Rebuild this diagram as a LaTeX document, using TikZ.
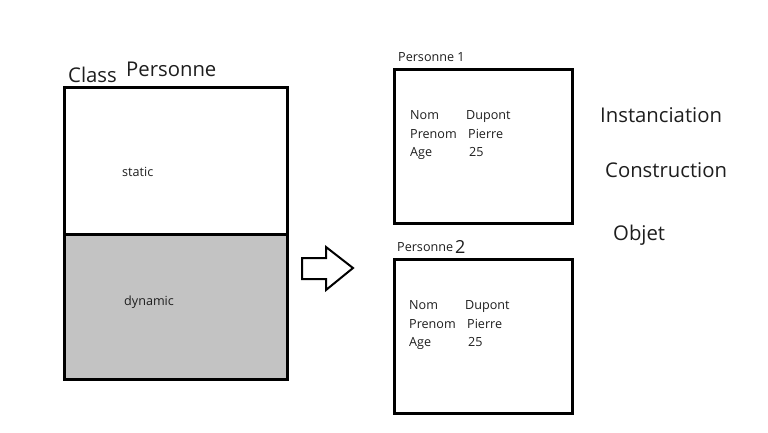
\documentclass[tikz,border=0pt]{standalone}
\usepackage{fontspec}
\setmainfont{Open Sans}
\definecolor{ink}{HTML}{1E1E1E}
\definecolor{dynfill}{HTML}{C3C3C3}
\begin{document}
\begin{tikzpicture}[x=1pt,y=-1pt,
  frame/.style={draw=black,line width=3pt},
  lbl/.style={inner sep=0pt,anchor=base west,text=ink},
  big/.style={lbl,font=\fontsize{20.3}{20.3}\selectfont},
  small/.style={lbl,font=\fontsize{12.6}{12.6}\selectfont},
  blockarrow/.style={draw=black,line width=2pt,fill=white,line join=miter}]
\useasboundingbox[fill=white] (0,0) rectangle (768,432);

% class box: static part above, dynamic part below
\coordinate (clsTL) at (64.5,87.5);
\coordinate (clsSplit) at (287,234.5);
\coordinate (clsBR) at (287,379);
\fill[dynfill] (64.5,234.5) rectangle (clsBR);
\draw[frame] (clsTL) rectangle (clsBR);
\draw[frame] (63,234.5) -- (clsSplit);
\node[big] (classkw) at (68,82) {Class};
\node[big] (classname) at (126,76) {Personne};
\node[small] (static) at (122,176) {static};
\node[small] (dynamic) at (124,305.5) {dynamic};

% instantiation arrow
\draw[blockarrow] (302,258) -- (326,258) -- (326,247) -- (353,268)
  -- (326,290) -- (326,279) -- (302,279) -- cycle;

% first instance
\draw[frame] (394,69) rectangle (572.5,223.5);
\node[small] (title1) at (398,61) {Personne 1};
\node[small] (nom1) at (410,119.5) {Nom};
\node[small] (nomv1) at (466,119.5) {Dupont};
\node[small] (pre1) at (410,138) {Prenom};
\node[small] (prev1) at (468,138) {Pierre};
\node[small] (age1) at (410,156.5) {Age};
\node[small] (agev1) at (469,156.5) {25};

% second instance
\draw[frame] (394,259.5) rectangle (572.5,413);
\node[small] (title2) at (397,251) {Personne};
\node[lbl,font=\fontsize{18}{18}\selectfont] (num2) at (455,253) {2};
\node[small] (nom2) at (409,309.5) {Nom};
\node[small] (nomv2) at (465,309.5) {Dupont};
\node[small] (pre2) at (409,328) {Prenom};
\node[small] (prev2) at (467,328) {Pierre};
\node[small] (age2) at (409,346) {Age};
\node[small] (agev2) at (468,346) {25};

% vocabulary
\node[big] (inst) at (600,122) {Instanciation};
\node[big] (cons) at (605,177) {Construction};
\node[big] (objet) at (613,240) {Objet};
\end{tikzpicture}
\end{document}
